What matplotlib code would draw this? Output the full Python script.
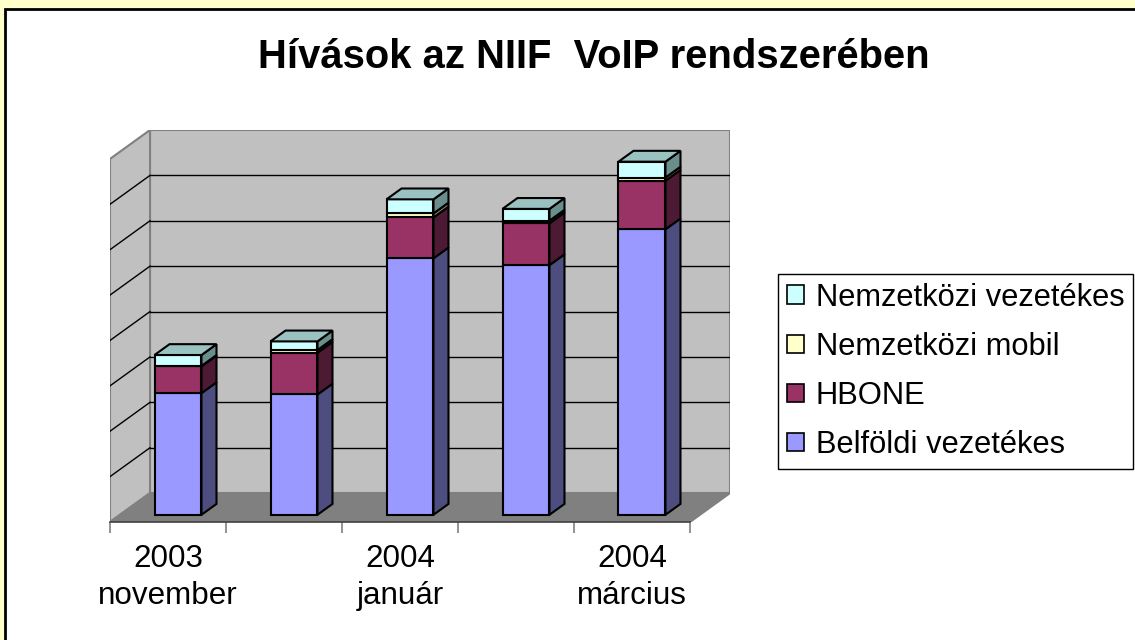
import matplotlib.pyplot as plt
from matplotlib.patches import Polygon, Rectangle, Patch
import numpy as np

plt.rcParams['font.family'] = ['Liberation Sans', 'DejaVu Sans']

# adatok (ezer hivas), a kepbol leolvasva
honapok = ["2003\nnovember", "2003\ndecember", "2004\njanuár", "2004\nfebruár", "2004\nmárcius"]
belfoldi = [2.68, 2.65, 5.65, 5.50, 6.29]
hbone = [0.59, 0.92, 0.90, 0.92, 1.07]
mobil = [0.01, 0.06, 0.09, 0.06, 0.07]
nemzetkozi = [0.24, 0.19, 0.31, 0.26, 0.35]

sorozatok = ["Belföldi vezetékes", "HBONE", "Nemzetközi mobil", "Nemzetközi vezetékes"]
szinek = ['#9999FF', '#993366', '#FFFFCC', '#CCFFFF']
oldal_szinek = ['#4D4D80', '#4D1A33', '#808066', '#6A8E8C']
teto_szinek = ['#7373BF', '#73264D', '#BFBF99', '#99C2C0']

# 3D hatas: melyseg vektor adategysegben
ddx, ddy = 0.345, 0.637
f0, f1 = 0.25, 0.625
szel = 0.405
ymax = 8

fig = plt.figure(figsize=(11.35, 6.4), dpi=100)
fig.patch.set_facecolor('#FFFFCC')
fig.patches.append(Rectangle((5 / 1135, -0.1), 1.2, 1 - 9 / 640 + 0.1, transform=fig.transFigure,
                             facecolor='white', edgecolor='black', lw=2, zorder=-10))

ax = fig.add_axes([110 / 1135, 118 / 640, 620 / 1135, 392 / 640])
ax.patch.set_visible(False)
ax.set_xlim(-0.5, 4.5 + ddx)
ax.set_ylim(0, ymax + ddy)

# falak es padlo
hatso = Polygon([(-0.5 + ddx, ddy), (4.5 + ddx, ddy), (4.5 + ddx, ymax + ddy), (-0.5 + ddx, ymax + ddy)],
                facecolor='#C0C0C0', edgecolor='#808080', lw=1.5, zorder=1)
bal = Polygon([(-0.5, 0), (-0.5 + ddx, ddy), (-0.5 + ddx, ymax + ddy), (-0.5, ymax)],
              facecolor='#C0C0C0', edgecolor='#808080', lw=1.5, zorder=1)
padlo = Polygon([(-0.5, 0), (4.5, 0), (4.5 + ddx, ddy), (-0.5 + ddx, ddy)],
                facecolor='#808080', edgecolor='#808080', lw=1.5, zorder=1)
for p in (hatso, bal, padlo):
    ax.add_patch(p)
for k in range(1, ymax):
    ax.plot([-0.5 + ddx, 4.5 + ddx], [k + ddy, k + ddy], color='black', lw=1, zorder=2)
    ax.plot([-0.5, -0.5 + ddx], [k, k + ddy], color='black', lw=1, zorder=2)

# oszlopok
x = np.arange(len(honapok))
adatok = [belfoldi, hbone, mobil, nemzetkozi]
also = np.zeros(len(x))
for s, ertek in enumerate(adatok):
    ertek = np.array(ertek)
    ax.bar(x + f0 * ddx, ertek, szel, bottom=also + f0 * ddy, color=szinek[s],
           edgecolor='black', lw=1.5, zorder=3)
    dd = f1 - f0
    for i in x:
        xr = i + f0 * ddx + szel / 2
        xl = xr - szel
        b = also[i] + f0 * ddy
        t = b + ertek[i]
        ax.add_patch(Polygon([(xr, b), (xr + dd * ddx, b + dd * ddy), (xr + dd * ddx, t + dd * ddy), (xr, t)],
                             facecolor=oldal_szinek[s], edgecolor='black', lw=1.5, zorder=3))
        if s == len(adatok) - 1:
            ax.add_patch(Polygon([(xl, t), (xr, t), (xr + dd * ddx, t + dd * ddy), (xl + dd * ddx, t + dd * ddy)],
                                 facecolor=teto_szinek[s], edgecolor='black', lw=1.5, zorder=3))
    also = also + ertek

# tengely
for sp in ['top', 'right', 'left']:
    ax.spines[sp].set_visible(False)
ax.spines['bottom'].set_bounds(-0.5, 4.5)
ax.spines['bottom'].set_color('#404040')
ax.spines['bottom'].set_linewidth(1.2)
ax.set_yticks([])
ax.set_xticks(x[::2])
ax.set_xticklabels(honapok[::2], fontsize=22.6, linespacing=1.3)
ax.set_xticks(np.arange(-0.5, 5, 1), minor=True)
ax.tick_params(axis='x', which='major', length=0, pad=16)
ax.tick_params(axis='x', which='minor', length=8, color='#808080', width=1.2)

fig.text(594 / 1135, 1 - 57 / 640, "Hívások az NIIF  VoIP rendszerében", fontsize=28.8,
         fontweight='bold', ha='center', va='center')

kezelok = [Patch(facecolor=szinek[s], edgecolor='black', lw=1.2, label=sorozatok[s]) for s in range(3, -1, -1)]
leg = fig.legend(handles=kezelok, loc='upper left', bbox_to_anchor=(778 / 1135, 1 - 274 / 640),
                 fontsize=22.2, frameon=True, fancybox=False, edgecolor='black', framealpha=1,
                 handlelength=0.55, handleheight=0.55, handletextpad=0.4, labelspacing=0.62,
                 borderpad=0.28, borderaxespad=0)
leg.get_frame().set_linewidth(1)

fig.savefig('out.png', dpi=100, facecolor=fig.get_facecolor())
